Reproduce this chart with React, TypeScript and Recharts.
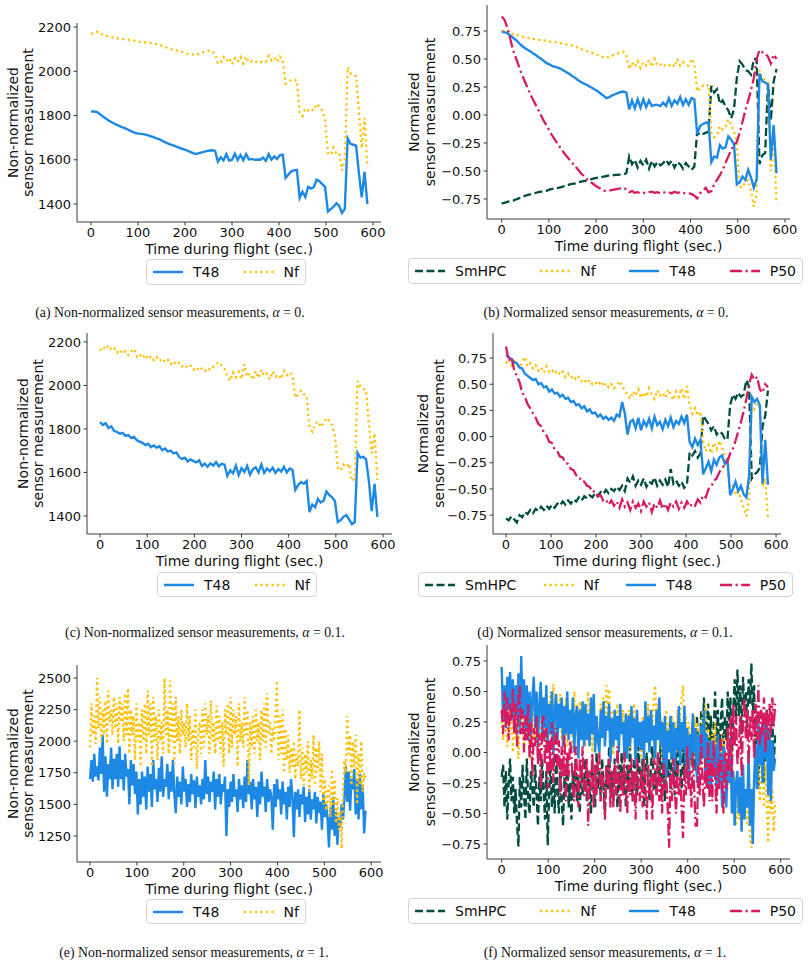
import { LineChart, Line, XAxis, YAxis, Legend } from "recharts";

// time grid (sec.) for the alpha = 0 and alpha = 0.1 panels
const TIME = [
  0, 6, 12, 18, 24, 30, 36, 42, 48, 54,
  60, 66, 72, 78, 84, 90, 96, 102, 108, 114,
  120, 126, 132, 138, 144, 150, 156, 162, 168, 174,
  180, 186, 192, 198, 204, 210, 216, 222, 228, 234,
  240, 246, 252, 258, 264, 270, 276, 282, 288, 294,
  300, 306, 312, 318, 324, 330, 336, 342, 348, 354,
  360, 366, 372, 378, 384, 390, 396, 402, 408, 414,
  420, 426, 432, 438, 444, 450, 456, 462, 468, 474,
  480, 486, 492, 498, 504, 510, 516, 522, 528, 534,
  540, 546, 552, 558, 564, 570, 576, 582, 588,
];

// finer grid for the noisy alpha = 1 panels
const TIME_FINE = [
  0, 3, 6, 9, 12, 15, 18, 21, 24, 27,
  30, 33, 36, 39, 42, 45, 48, 51, 54, 57,
  60, 63, 66, 69, 72, 75, 78, 81, 84, 87,
  90, 93, 96, 99, 102, 105, 108, 111, 114, 117,
  120, 123, 126, 129, 132, 135, 138, 141, 144, 147,
  150, 153, 156, 159, 162, 165, 168, 171, 174, 177,
  180, 183, 186, 189, 192, 195, 198, 201, 204, 207,
  210, 213, 216, 219, 222, 225, 228, 231, 234, 237,
  240, 243, 246, 249, 252, 255, 258, 261, 264, 267,
  270, 273, 276, 279, 282, 285, 288, 291, 294, 297,
  300, 303, 306, 309, 312, 315, 318, 321, 324, 327,
  330, 333, 336, 339, 342, 345, 348, 351, 354, 357,
  360, 363, 366, 369, 372, 375, 378, 381, 384, 387,
  390, 393, 396, 399, 402, 405, 408, 411, 414, 417,
  420, 423, 426, 429, 432, 435, 438, 441, 444, 447,
  450, 453, 456, 459, 462, 465, 468, 471, 474, 477,
  480, 483, 486, 489, 492, 495, 498, 501, 504, 507,
  510, 513, 516, 519, 522, 525, 528, 531, 534, 537,
  540, 543, 546, 549, 552, 555, 558, 561, 564, 567,
  570, 573, 576, 579, 582, 585, 588,
];

const TIME_TICKS = [0, 100, 200, 300, 400, 500, 600];
const RAW_TICKS = [1400, 1600, 1800, 2000, 2200];
const RAW_TICKS_ALPHA1 = [1250, 1500, 1750, 2000, 2250, 2500];
const NORM_TICKS = [-0.75, -0.5, -0.25, 0, 0.25, 0.5, 0.75];

// (a) alpha = 0, raw
const A_T48 = [
  1818, 1818, 1816, 1808, 1798, 1789, 1780, 1772, 1765, 1759,
  1753, 1748, 1743, 1737, 1731, 1725, 1720, 1718, 1717, 1715,
  1711, 1707, 1703, 1698, 1694, 1688, 1681, 1675, 1670, 1666,
  1661, 1656, 1651, 1647, 1642, 1637, 1631, 1626, 1629, 1632,
  1636, 1639, 1642, 1643, 1640, 1592, 1612, 1598, 1625, 1596,
  1600, 1628, 1599, 1622, 1598, 1626, 1602, 1604, 1600, 1601,
  1600, 1610, 1596, 1626, 1601, 1615, 1604, 1621, 1623, 1518,
  1533, 1548, 1552, 1554, 1428, 1456, 1432, 1478, 1470, 1476,
  1510, 1503, 1490, 1478, 1366, 1377, 1388, 1404, 1392, 1360,
  1378, 1697, 1672, 1668, 1664, 1540, 1430, 1546, 1400,
];
const A_NF = [
  2168, 2174, 2179, 2172, 2166, 2162, 2158, 2155, 2152, 2149,
  2147, 2146, 2145, 2143, 2141, 2139, 2137, 2134, 2132, 2131,
  2130, 2128, 2126, 2123, 2120, 2116, 2111, 2106, 2101, 2098,
  2095, 2092, 2088, 2084, 2080, 2077, 2076, 2073, 2078, 2082,
  2086, 2090, 2094, 2090, 2078, 2034, 2040, 2064, 2046, 2060,
  2032, 2058, 2042, 2064, 2036, 2066, 2040, 2044, 2038, 2046,
  2040, 2048, 2044, 2070, 2050, 2062, 2042, 2066, 2052, 1944,
  1950, 1962, 1960, 1958, 1812, 1798, 1832, 1822, 1830, 1822,
  1852, 1840, 1822, 1780, 1630, 1622, 1655, 1628, 1630, 1552,
  1600, 2018, 1990, 1980, 1978, 1820, 1652, 1790, 1570,
];

// (b) alpha = 0, normalized
const B_SMHPC = [
  -0.79, -0.785, -0.775, -0.77, -0.765, -0.755, -0.745, -0.735, -0.725, -0.715,
  -0.71, -0.7, -0.695, -0.69, -0.685, -0.68, -0.675, -0.665, -0.66, -0.655,
  -0.65, -0.645, -0.635, -0.63, -0.62, -0.615, -0.61, -0.6, -0.595, -0.59,
  -0.585, -0.58, -0.57, -0.565, -0.56, -0.555, -0.55, -0.545, -0.54, -0.54,
  -0.535, -0.535, -0.53, -0.53, -0.52, -0.37, -0.44, -0.4, -0.47, -0.41,
  -0.45, -0.4, -0.48, -0.41, -0.46, -0.42, -0.45, -0.43, -0.4, -0.44,
  -0.41, -0.47, -0.42, -0.44, -0.48, -0.43, -0.46, -0.49, -0.46, -0.15,
  -0.18, -0.17, -0.16, -0.15, 0.26, 0.2, 0.23, 0.1, 0.13, 0.08,
  0.04, -0.03, 0.05, 0.33, 0.48, 0.45, 0.4, 0.39, 0.36, 0.5,
  0.5, -0.44, -0.36, -0.34, 0.28, -0.05, 0.3, 0.41,
];
const B_NF = [
  0.75, 0.76, 0.75, 0.735, 0.72, 0.715, 0.71, 0.7, 0.695, 0.69,
  0.685, 0.68, 0.675, 0.67, 0.67, 0.665, 0.66, 0.655, 0.65, 0.65,
  0.645, 0.64, 0.635, 0.63, 0.625, 0.62, 0.61, 0.6, 0.59, 0.58,
  0.57, 0.565, 0.555, 0.545, 0.535, 0.525, 0.515, 0.51, 0.52, 0.53,
  0.54, 0.55, 0.56, 0.565, 0.53, 0.41, 0.47, 0.43, 0.48, 0.42,
  0.47, 0.44, 0.49, 0.43, 0.5, 0.44, 0.45, 0.43, 0.45, 0.44,
  0.46, 0.43, 0.5, 0.44, 0.47, 0.45, 0.44, 0.5, 0.46, 0.21,
  0.24, 0.26, 0.25, 0.27, -0.16, -0.2, -0.18, -0.1, -0.13, -0.11,
  -0.04, -0.09, -0.15, -0.25, -0.64, -0.65, -0.6, -0.58, -0.68, -0.82,
  -0.7, 0.4, 0.33, 0.31, 0.3, -0.5, -0.16, -0.79,
];
const B_T48 = [
  0.74, 0.74, 0.73, 0.71, 0.69, 0.67, 0.645, 0.62, 0.6, 0.585,
  0.57, 0.55, 0.535, 0.515, 0.5, 0.48, 0.46, 0.45, 0.435, 0.43,
  0.42, 0.41, 0.395, 0.38, 0.365, 0.345, 0.33, 0.31, 0.295, 0.28,
  0.27, 0.255, 0.24, 0.225, 0.21, 0.19, 0.17, 0.15, 0.16, 0.175,
  0.185, 0.195, 0.205, 0.21, 0.2, 0.05, 0.13, 0.06, 0.14, 0.065,
  0.14, 0.07, 0.13, 0.08, 0.09, 0.09, 0.08, 0.11, 0.08, 0.15,
  0.08, 0.13, 0.1, 0.16, 0.09, 0.14, 0.09, 0.15, 0.14, -0.17,
  -0.1, -0.08, -0.07, -0.06, -0.42, -0.37, -0.38, -0.27, -0.3, -0.29,
  -0.19, -0.22, -0.26, -0.62, -0.6, -0.55, -0.58, -0.49, -0.56, -0.65,
  -0.57, 0.37, 0.3, 0.29, 0.27, -0.4, -0.09, -0.52,
];
const B_P50 = [
  0.88, 0.85, 0.78, 0.68, 0.58, 0.51, 0.44, 0.37, 0.31, 0.25,
  0.19, 0.14, 0.09, 0.04, -0.01, -0.06, -0.1, -0.15, -0.19, -0.23,
  -0.27, -0.3, -0.34, -0.37, -0.4, -0.43, -0.46, -0.49, -0.52, -0.545,
  -0.57, -0.59, -0.61, -0.63, -0.645, -0.66, -0.675, -0.68, -0.675, -0.67,
  -0.665, -0.66, -0.655, -0.65, -0.665, -0.69, -0.68, -0.695, -0.69, -0.7,
  -0.695, -0.7, -0.69, -0.685, -0.695, -0.69, -0.7, -0.69, -0.695, -0.69,
  -0.7, -0.685, -0.695, -0.69, -0.7, -0.695, -0.7, -0.705, -0.72, -0.745,
  -0.7, -0.68, -0.65, -0.69, -0.68, -0.62, -0.58, -0.54, -0.49, -0.43,
  -0.37, -0.31, -0.27, -0.24, -0.16, -0.06, 0.04, 0.13, 0.22, 0.33,
  0.5, 0.58, 0.56, 0.55, 0.52, 0.46, 0.54, 0.5,
];

// (c) alpha = 0.1, raw
const C_T48 = [
  1832, 1818, 1826, 1804, 1812, 1790, 1786, 1778, 1782, 1768,
  1772, 1758, 1764, 1748, 1742, 1736, 1726, 1732, 1716, 1724,
  1714, 1720, 1702, 1710, 1696, 1700, 1688, 1692, 1670, 1662,
  1668, 1650, 1660, 1652, 1646, 1656, 1630, 1640, 1626, 1642,
  1632, 1648, 1628, 1640, 1636, 1584, 1610, 1596, 1632, 1588,
  1620, 1602, 1630, 1590, 1614, 1624, 1600, 1636, 1598, 1618,
  1606, 1622, 1598, 1616, 1604, 1626, 1600, 1618, 1612, 1520,
  1542, 1556, 1548, 1560, 1418, 1452, 1440, 1478, 1462, 1470,
  1512, 1496, 1486, 1468, 1372, 1380, 1396, 1404, 1384, 1362,
  1372, 1690, 1668, 1672, 1660, 1560, 1422, 1548, 1396,
];
const C_NF = [
  2160, 2178, 2166, 2184, 2164, 2172, 2150, 2164, 2146, 2158,
  2140, 2156, 2168, 2134, 2146, 2126, 2142, 2120, 2134, 2116,
  2130, 2112, 2124, 2108, 2118, 2098, 2112, 2094, 2104, 2088,
  2096, 2080, 2090, 2072, 2084, 2068, 2078, 2064, 2080, 2072,
  2086, 2098, 2108, 2092, 2076, 2040, 2022, 2058, 2036, 2062,
  2030, 2098, 2040, 2056, 2026, 2066, 2034, 2072, 2044, 2054,
  2028, 2064, 2040, 2050, 2030, 2066, 2046, 2060, 2048, 1944,
  1958, 1976, 1960, 1952, 1808, 1788, 1822, 1834, 1808, 1830,
  1850, 1836, 1818, 1770, 1622, 1608, 1636, 1624, 1640, 1560,
  1572, 2020, 1994, 1984, 1978, 1824, 1688, 1780, 1566,
];

// (d) alpha = 0.1, normalized
const D_SMHPC = [
  -0.78, -0.8, -0.76, -0.79, -0.82, -0.75, -0.77, -0.72, -0.74, -0.7,
  -0.73, -0.69, -0.71, -0.67, -0.7, -0.66, -0.69, -0.65, -0.68, -0.64,
  -0.66, -0.62, -0.65, -0.61, -0.64, -0.6, -0.62, -0.58, -0.61, -0.57,
  -0.59, -0.56, -0.58, -0.54, -0.57, -0.53, -0.55, -0.51, -0.54, -0.5,
  -0.52, -0.48, -0.51, -0.47, -0.52, -0.4, -0.44, -0.38, -0.47, -0.42,
  -0.46, -0.4, -0.48, -0.43, -0.45, -0.39, -0.47, -0.42, -0.46, -0.41,
  -0.48, -0.31, -0.45, -0.42, -0.47, -0.43, -0.49, -0.46, -0.15, -0.18,
  -0.14, -0.2, -0.16, 0.2, 0.16, 0.12, 0.06, 0.1, 0.02, 0.05,
  0.03, -0.02, -0.03, 0.3, 0.4, 0.36, 0.42, 0.38, 0.4, 0.54,
  0.48, -0.4, -0.36, -0.34, -0.3, 0.1, 0.2, 0.44,
];
const D_NF = [
  0.7, 0.74, 0.68, 0.72, 0.7, 0.66, 0.71, 0.76, 0.67, 0.7,
  0.65, 0.68, 0.63, 0.66, 0.61, 0.67, 0.62, 0.64, 0.6, 0.63,
  0.59, 0.62, 0.57, 0.6, 0.56, 0.58, 0.54, 0.57, 0.53, 0.55,
  0.51, 0.54, 0.5, 0.52, 0.49, 0.53, 0.48, 0.51, 0.47, 0.5,
  0.46, 0.49, 0.53, 0.48, 0.44, 0.4, 0.36, 0.43, 0.39, 0.45,
  0.37, 0.42, 0.38, 0.46, 0.4, 0.36, 0.44, 0.39, 0.42, 0.37,
  0.45, 0.4, 0.35, 0.43, 0.38, 0.46, 0.36, 0.48, 0.3, 0.22,
  0.27, 0.2, 0.24, -0.05, -0.14, -0.08, -0.16, -0.06, -0.12, -0.04,
  -0.1, -0.18, -0.24, -0.55, -0.48, -0.56, -0.5, -0.6, -0.68, -0.76,
  -0.6, 0.3, 0.26, 0.32, 0.28, -0.48, -0.4, -0.78,
];
const D_T48 = [
  0.78, 0.76, 0.74, 0.71, 0.7, 0.66, 0.65, 0.6, 0.58, 0.56,
  0.54, 0.55, 0.5, 0.51, 0.47, 0.48, 0.43, 0.45, 0.41, 0.42,
  0.38, 0.4, 0.36, 0.37, 0.33, 0.34, 0.3, 0.31, 0.27, 0.29,
  0.24, 0.26, 0.22, 0.23, 0.19, 0.21, 0.17, 0.19, 0.16, 0.18,
  0.15, 0.21, 0.19, 0.33, 0.22, 0.02, 0.14, 0.16, 0.08, 0.18,
  0.06, 0.15, 0.1, 0.17, 0.08, 0.19, 0.11, 0.14, 0.07, 0.16,
  0.1, 0.18, 0.09, 0.15, 0.12, 0.19, 0.13, 0.21, -0.05, -0.1,
  -0.02, -0.08, -0.03, -0.36, -0.3, -0.24, -0.33, -0.22, -0.27, -0.2,
  -0.18, -0.26, -0.22, -0.56, -0.5, -0.43, -0.52, -0.47, -0.55, -0.58,
  -0.38, 0.38, 0.33, 0.36, 0.3, -0.45, -0.03, -0.46,
];
const D_P50 = [
  0.86, 0.72, 0.76, 0.64, 0.58, 0.52, 0.42, 0.38, 0.31, 0.27,
  0.22, 0.18, 0.12, 0.1, 0.04, 0.01, -0.05, -0.06, -0.12, -0.14,
  -0.19, -0.2, -0.25, -0.26, -0.31, -0.32, -0.37, -0.38, -0.43, -0.43,
  -0.47, -0.48, -0.53, -0.52, -0.57, -0.56, -0.61, -0.6, -0.65, -0.61,
  -0.66, -0.62, -0.68, -0.6, -0.67, -0.63, -0.7, -0.62, -0.68, -0.64,
  -0.71, -0.62, -0.67, -0.63, -0.72, -0.64, -0.68, -0.61, -0.69, -0.64,
  -0.7, -0.63, -0.67, -0.62, -0.69, -0.63, -0.68, -0.62, -0.67, -0.64,
  -0.66, -0.6, -0.63, -0.56, -0.58, -0.5, -0.48, -0.42, -0.4, -0.34,
  -0.3, -0.27, -0.24, -0.16, -0.12, -0.04, 0.05, 0.14, 0.24, 0.36,
  0.5, 0.59, 0.54, 0.57, 0.45, 0.42, 0.5, 0.47,
];

// (e) alpha = 1, raw (on TIME_FINE)
const E_T48 = [
  1700, 1850, 1680, 1900, 1720, 1800, 1690, 1950, 1740, 2050,
  1600, 1880, 1560, 1820, 1700, 1950, 1620, 1860, 1700, 1900,
  1640, 1960, 1700, 1850, 1610, 1900, 1720, 1780, 1500, 1850,
  1650, 1820, 1580, 1760, 1420, 1700, 1500, 1760, 1560, 1720,
  1460, 1800, 1600, 1740, 1480, 1850, 1620, 1700, 1520, 1790,
  1600, 1880, 1560, 1700, 1640, 1820, 1540, 1760, 1600, 1850,
  1580, 1430, 1720, 1560, 1680, 1500, 1800, 1600, 1700, 1480,
  1660, 1520, 1740, 1580, 1690, 1470, 1720, 1560, 1650, 1500,
  1700, 1540, 1850, 1580, 1720, 1520, 1680, 1600, 1760, 1460,
  1700, 1560, 1740, 1500, 1660, 1600, 1720, 1250, 1620, 1480,
  1680, 1520, 1740, 1560, 1620, 1440, 1700, 1540, 1650, 1470,
  1720, 1520, 1850, 1580, 1680, 1460, 1700, 1540, 1640, 1400,
  1680, 1500, 1760, 1560, 1640, 1440, 1700, 1520, 1620, 1560,
  1300, 1660, 1480, 1700, 1540, 1620, 1420, 1680, 1500, 1600,
  1380, 1640, 1480, 1700, 1560, 1240, 1600, 1460, 1620, 1400,
  1580, 1500, 1640, 1360, 1560, 1420, 1620, 1380, 1540, 1460,
  1600, 1350, 1560, 1430, 1520, 1300, 1580, 1400, 1500, 1380,
  1160, 1480, 1300, 1560, 1250, 1440, 1180, 1400, 1320, 1500,
  1380, 1560, 1800, 1520, 1760, 1450, 1700, 1620, 1780, 1420,
  1700, 1380, 1740, 1460, 1650, 1270, 1450,
];
const E_NF = [
  1950, 2300, 2050, 2200, 1980, 2500, 2100, 2350, 2000, 2250,
  2050, 2320, 1980, 2400, 2150, 2250, 2050, 2350, 2100, 2300,
  1980, 2350, 2150, 2300, 2000, 2380, 2050, 2420, 1900, 2250,
  2050, 2200, 1850, 2300, 2000, 2150, 1800, 2250, 2000, 2300,
  1900, 2400, 2050, 2300, 1800, 2350, 2000, 2200, 1850, 2250,
  2000, 2150, 1900, 2500, 2050, 2250, 1900, 2480, 2000, 2300,
  1820, 2350, 2000, 2200, 1900, 2250, 2050, 2150, 1950, 2300,
  2000, 2200, 1850, 2100, 1950, 2250, 1780, 2050, 2150, 1900,
  2250, 1950, 2300, 2050, 2200, 1900, 2320, 2000, 2150, 1900,
  2280, 2000, 2200, 1900, 2150, 1800, 2250, 2050, 2300, 1900,
  2350, 1950, 2250, 2050, 2200, 1800, 2300, 2000, 2150, 1950,
  2350, 2050, 2250, 1650, 2150, 1950, 2200, 1900, 2250, 2000,
  2150, 1850, 2250, 2000, 2300, 1950, 2380, 2050, 2150, 1900,
  2100, 2000, 2250, 2480, 1850, 2200, 1900, 2250, 1750, 2100,
  1850, 2050, 1750, 1950, 1800, 2000, 1700, 1900, 1800, 2250,
  1700, 1950, 1650, 1900, 1750, 2000, 1600, 1850, 1700, 2050,
  1650, 1950, 1750, 2000, 1600, 1900, 1500, 1700, 1450, 1600,
  1650, 1400, 1780, 1500, 1700, 1350, 1550, 1300, 1450, 1150,
  1600, 1850, 1750, 2200, 1900, 2050, 1650, 2000, 1800, 2050,
  1500, 1900, 1650, 2000, 1600, 1750, 1700,
];

// (f) alpha = 1, normalized (on TIME_FINE)
const F_SMHPC = [
  -0.2, -0.1, -0.45, -0.15, -0.55, -0.25, -0.05, -0.4, -0.2, -0.5,
  -0.3, -0.6, -0.77, -0.2, -0.45, -0.1, -0.35, -0.55, -0.05, -0.4,
  -0.5, -0.15, -0.3, -0.45, -0.1, -0.35, -0.6, -0.2, -0.4, -0.05,
  -0.3, -0.55, -0.15, -0.76, -0.35, -0.1, -0.45, -0.2, -0.5, 0.0,
  -0.3, -0.5, -0.1, -0.4, -0.6, -0.2, -0.35, -0.05, -0.45, -0.25,
  -0.55, -0.15, -0.3, -0.05, -0.4, -0.2, -0.5, -0.1, -0.35, -0.25,
  -0.05, -0.4, -0.15, -0.3, -0.5, -0.1, -0.25, -0.45, 0.0, -0.3,
  -0.15, -0.4, -0.05, -0.25, -0.5, -0.1, -0.3, 0.05, -0.35, -0.2,
  -0.4, -0.05, -0.25, -0.45, -0.1, -0.3, 0.0, -0.35, -0.15, -0.45,
  -0.1, -0.3, 0.05, -0.25, -0.4, -0.05, -0.2, -0.35, 0.05, -0.15,
  -0.3, -0.05, -0.45, -0.15, 0.0, -0.25, -0.4, -0.1, 0.05, -0.3,
  -0.15, -0.35, 0.0, -0.2, 0.1, -0.3, -0.1, -0.4, 0.05, -0.2,
  -0.05, -0.3, 0.1, -0.15, -0.35, 0.0, -0.2, 0.15, -0.1, -0.3,
  0.05, -0.2, 0.2, -0.05, -0.25, 0.15, -0.1, 0.25, 0.0, -0.15,
  0.3, 0.05, -0.1, 0.35, 0.1, 0.45, -0.05, 0.25, 0.4, 0.05,
  0.3, -0.15, 0.2, 0.5, 0.05, 0.35, -0.1, 0.25, 0.45, 0.0,
  0.3, 0.1, 0.5, 0.2, 0.45, -0.05, 0.35, 0.6, 0.25, 0.68,
  0.3, 0.55, 0.15, 0.62, 0.35, 0.5, 0.2, 0.6, 0.4, 0.73,
  0.3, 0.55, -0.2, 0.1, -0.3, 0.15, -0.1, 0.3, -0.25, 0.05,
  0.35, -0.05, 0.2, -0.15, 0.3, -0.1, 0.15,
];
const F_NF = [
  0.3, 0.1, 0.45, 0.2, 0.05, 0.35, 0.15, 0.4, 0.0, 0.3,
  0.1, 0.4, -0.05, 0.3, 0.15, 0.35, 0.05, 0.42, 0.1, 0.3,
  -0.05, 0.35, 0.1, 0.4, 0.05, 0.45, 0.15, 0.35, 0.0, 0.4,
  0.15, 0.45, 0.1, 0.35, 0.2, 0.5, 0.05, 0.56, 0.15, 0.4,
  0.05, 0.3, 0.48, 0.1, 0.35, 0.15, 0.45, 0.05, 0.3, 0.2,
  0.35, 0.02, 0.5, 0.2, 0.4, 0.05, 0.42, 0.25, 0.1, 0.35,
  0.05, 0.3, 0.5, 0.15, 0.35, 0.0, 0.4, 0.1, 0.3, 0.2,
  0.0, 0.4, 0.2, 0.45, 0.1, 0.55, 0.25, 0.52, 0.1, 0.35,
  -0.02, 0.3, 0.15, 0.4, 0.05, 0.3, 0.15, 0.35, 0.0, 0.3,
  0.1, 0.35, 0.0, 0.28, 0.15, 0.4, -0.05, 0.3, 0.1, 0.2,
  -0.05, 0.3, 0.05, 0.35, 0.1, 0.4, 0.0, 0.3, 0.15, 0.45,
  0.55, 0.2, 0.4, 0.05, 0.3, -0.05, 0.25, 0.1, 0.35, 0.0,
  0.25, 0.05, 0.3, -0.1, 0.25, 0.1, 0.35, 0.0, 0.3, 0.45,
  0.55, 0.1, 0.3, 0.0, 0.25, -0.1, 0.2, 0.05, 0.3, -0.05,
  0.25, 0.0, 0.2, -0.15, 0.35, 0.05, 0.4, -0.05, 0.2, 0.1,
  -0.2, 0.15, -0.05, 0.25, -0.15, 0.1, -0.25, 0.05, -0.1, 0.15,
  -0.25, 0.0, -0.3, -0.05, -0.2, -0.1, -0.5, -0.2, -0.6, -0.3,
  -0.55, -0.25, -0.65, -0.4, -0.55, -0.3, -0.6, -0.45, -0.7, -0.78,
  -0.45, -0.2, 0.05, -0.3, -0.05, -0.4, 0.0, -0.2, -0.45, -0.1,
  -0.45, -0.74, -0.2, -0.5, -0.3, -0.65, -0.4,
];
const F_T48 = [
  0.7, 0.25, 0.55, 0.2, 0.62, 0.35, 0.66, 0.28, 0.6, 0.2,
  0.55, 0.3, 0.65, 0.15, 0.79, 0.3, 0.6, 0.2, 0.55, 0.1,
  0.5, 0.15, 0.45, 0.62, 0.2, 0.5, 0.05, 0.4, 0.58, 0.15,
  0.45, 0.2, 0.55, 0.05, 0.4, 0.15, 0.5, -0.02, 0.35, 0.48,
  0.1, 0.4, 0.2, 0.45, 0.05, 0.38, 0.15, 0.5, 0.1, 0.35,
  0.15, 0.45, 0.0, 0.3, 0.38, -0.05, 0.35, 0.1, 0.42, 0.05,
  0.4, 0.1, 0.32, 0.05, 0.45, 0.15, 0.48, 0.0, 0.3, 0.1,
  0.0, 0.35, 0.12, 0.42, 0.05, 0.3, 0.18, 0.4, -0.08, 0.28,
  0.05, 0.35, 0.1, 0.3, 0.0, 0.4, 0.15, 0.25, -0.05, 0.32,
  -0.05, 0.3, 0.05, 0.38, 0.12, 0.28, -0.1, 0.35, 0.05, 0.25,
  0.02, 0.26, -0.05, 0.42, 0.08, 0.3, 0.0, 0.35, 0.1, 0.22,
  -0.05, 0.35, 0.1, 0.45, 0.05, 0.25, -0.1, 0.3, -0.2, 0.18,
  0.0, 0.3, -0.05, 0.25, -0.15, 0.2, 0.02, 0.38, -0.1, 0.25,
  0.02, 0.38, -0.1, 0.2, -0.25, 0.15, -0.05, 0.32, 0.0, 0.2,
  -0.25, 0.15, -0.1, 0.22, -0.05, 0.35, -0.2, 0.15, -0.3, 0.1,
  -0.3, 0.1, -0.2, 0.05, -0.35, 0.15, -0.25, 0.0, -0.45, 0.05,
  0.0, -0.45, -0.05, -0.25, 0.1, -0.5, -0.15, -0.6, -0.25, -0.15,
  -0.5, -0.2, -0.65, -0.1, -0.55, -0.3, -0.45, 0.0, -0.6, -0.3,
  -0.75, -0.2, 0.05, -0.3, 0.25, -0.1, 0.2, -0.25, 0.3, -0.05,
  0.3, -0.35, 0.2, -0.4, 0.1, -0.15, -0.05,
];
const F_P50 = [
  0.35, 0.15, 0.5, 0.2, 0.45, 0.1, 0.4, 0.25, 0.52, 0.15,
  0.4, 0.05, 0.45, 0.55, 0.15, 0.35, 0.0, 0.3, 0.1, 0.4,
  -0.05, 0.25, -0.2, 0.2, 0.05, 0.3, -0.1, 0.15, -0.3, 0.25,
  0.3, -0.1, 0.2, -0.3, 0.1, -0.15, 0.25, -0.25, 0.05, 0.2,
  -0.15, 0.1, -0.35, 0.05, -0.2, 0.15, -0.4, 0.0, -0.2, 0.1,
  0.0, -0.3, -0.4, 0.05, -0.15, -0.45, -0.05, -0.25, 0.05, -0.35,
  -0.35, -0.05, -0.6, -0.15, -0.3, 0.0, -0.45, -0.1, -0.35, -0.05,
  0.0, -0.4, -0.15, -0.3, -0.55, -0.1, -0.3, -0.05, -0.45, -0.15,
  -0.45, -0.1, -0.35, 0.05, -0.25, -0.5, -0.15, -0.35, 0.0, -0.3,
  -0.5, -0.1, -0.35, -0.05, -0.4, -0.15, -0.55, -0.05, -0.3, -0.4,
  -0.15, -0.45, -0.05, -0.3, -0.55, -0.1, -0.35, -0.2, -0.55, -0.05,
  -0.1, -0.35, 0.0, -0.4, -0.2, -0.5, -0.05, -0.3, -0.2, -0.45,
  -0.78, -0.15, -0.4, -0.05, -0.3, -0.5, -0.1, -0.35, -0.2, -0.45,
  -0.7, -0.1, -0.35, 0.05, -0.3, -0.15, -0.45, 0.0, -0.3, -0.6,
  -0.6, -0.1, -0.35, 0.15, -0.25, -0.45, -0.05, -0.3, 0.1, -0.4,
  -0.05, -0.4, 0.1, -0.2, -0.5, -0.05, -0.3, 0.15, -0.25, -0.5,
  0.0, -0.3, 0.2, -0.15, 0.3, -0.2, 0.4, 0.05, 0.3, -0.1,
  0.05, 0.3, -0.2, 0.25, 0.45, 0.1, 0.35, -0.1, 0.3, 0.1,
  0.35, -0.05, 0.4, 0.1, 0.55, 0.05, 0.35, 0.15, 0.45, 0.0,
  0.35, 0.1, 0.4, 0.15, 0.45, 0.2, 0.4,
];

const COLORS: Record<string, string> = {
  SmHPC: "#004D40",
  Nf: "#FFC107",
  T48: "#1E88E5",
  P50: "#D81B60",
};
const DASH: Record<string, string | undefined> = {
  SmHPC: "8 3.5",
  Nf: "2.2 3.3",
  T48: undefined,
  P50: "12 3.5 2.2 3.5",
};
const WIDTH: Record<string, number> = { SmHPC: 2.3, Nf: 2.3, T48: 2.4, P50: 2.3 };

const SANS = "'DejaVu Sans', Verdana, sans-serif";
const SERIF = "'Liberation Serif', 'Times New Roman', serif";
const AXIS = "#3a3a3a";
const X_H = 30;
const H = 300;

const fmtRaw = (v: number) => String(v);
const fmtNorm = (v: number) => v.toFixed(2).replace("-", "\u2212");

type Series = { name: string; values: number[] };
type PanelDef = {
  left: number;
  top: number;
  width: number;
  time: number[];
  plot: { l: number; t: number; r: number; b: number };
  xDomain: [number, number];
  yDomain: [number, number];
  yTicks: number[];
  fmt: (v: number) => string;
  yTitle: string[];
  yTitleX: number[];
  legend: { l: number; t: number; w: number; h: number };
  series: Series[];
};

const RAW_TITLE = ["Non-normalized", "sensor measurement"];
const NORM_TITLE = ["Normalized", "sensor measurement"];

const PANELS: PanelDef[] = [
  {
    left: 0, top: 0, width: 400, time: TIME,
    plot: { l: 77, t: 23, r: 381, b: 222 },
    xDomain: [-29.8, 617], yDomain: [1319, 2218], yTicks: RAW_TICKS, fmt: fmtRaw,
    yTitle: RAW_TITLE, yTitleX: [13, 28],
    legend: { l: 146, t: 259, w: 160, h: 26 },
    series: [{ name: "T48", values: A_T48 }, { name: "Nf", values: A_NF }],
  },
  {
    left: 400, top: 0, width: 410, time: TIME,
    plot: { l: 487, t: 5, r: 790, b: 219 },
    xDomain: [-31.1, 610.6], yDomain: [-0.929, 0.982], yTicks: NORM_TICKS, fmt: fmtNorm,
    yTitle: NORM_TITLE, yTitleX: [14, 30],
    legend: { l: 408, t: 258, w: 395, h: 26 },
    series: [
      { name: "SmHPC", values: B_SMHPC },
      { name: "Nf", values: B_NF },
      { name: "T48", values: B_T48 },
      { name: "P50", values: B_P50 },
    ],
  },
  {
    left: 0, top: 320, width: 400, time: TIME,
    plot: { l: 87, t: 333, r: 392, b: 534 },
    xDomain: [-27.6, 619], yDomain: [1317, 2241], yTicks: RAW_TICKS, fmt: fmtRaw,
    yTitle: RAW_TITLE, yTitleX: [22.5, 38],
    legend: { l: 157, t: 572, w: 160, h: 25 },
    series: [{ name: "T48", values: C_T48 }, { name: "Nf", values: C_NF }],
  },
  {
    left: 400, top: 320, width: 410, time: TIME,
    plot: { l: 493, t: 333, r: 781, b: 534 },
    xDomain: [-28.9, 611], yDomain: [-0.93, 0.989], yTicks: NORM_TICKS, fmt: fmtNorm,
    yTitle: NORM_TITLE, yTitleX: [22.5, 38.5],
    legend: { l: 418, t: 572, w: 375, h: 25 },
    series: [
      { name: "SmHPC", values: D_SMHPC },
      { name: "Nf", values: D_NF },
      { name: "T48", values: D_T48 },
      { name: "P50", values: D_P50 },
    ],
  },
  {
    left: 0, top: 640, width: 400, time: TIME_FINE,
    plot: { l: 77, t: 665, r: 381, b: 862 },
    xDomain: [-27.8, 621], yDomain: [1044, 2603], yTicks: RAW_TICKS_ALPHA1, fmt: fmtRaw,
    yTitle: RAW_TITLE, yTitleX: [12.5, 28],
    legend: { l: 146, t: 899, w: 160, h: 25 },
    series: [{ name: "T48", values: E_T48 }, { name: "Nf", values: E_NF }],
  },
  {
    left: 400, top: 640, width: 410, time: TIME_FINE,
    plot: { l: 487, t: 645, r: 790, b: 859 },
    xDomain: [-31.6, 620], yDomain: [-0.873, 0.881], yTicks: NORM_TICKS, fmt: fmtNorm,
    yTitle: NORM_TITLE, yTitleX: [14, 30],
    legend: { l: 408, t: 898, w: 395, h: 26 },
    series: [
      { name: "SmHPC", values: F_SMHPC },
      { name: "Nf", values: F_NF },
      { name: "T48", values: F_T48 },
      { name: "P50", values: F_P50 },
    ],
  },
];

const CAPTIONS = [
  { text: "(a) Non-normalized sensor measurements, ", alpha: "0", cx: 170, cy: 313 },
  { text: "(b) Normalized sensor measurements, ", alpha: "0", cx: 606, cy: 313 },
  { text: "(c) Non-normalized sensor measurements, ", alpha: "0.1", cx: 205, cy: 633 },
  { text: "(d) Normalized sensor measurements, ", alpha: "0.1", cx: 605, cy: 633 },
  { text: "(e) Non-normalized sensor measurements, ", alpha: "1", cx: 194, cy: 953 },
  { text: "(f) Normalized sensor measurements, ", alpha: "1", cx: 605, cy: 953 },
];

function LegendBox({ names, w, h }: { names: string[]; w: number; h: number }) {
  return (
    <div
      style={{
        boxSizing: "border-box",
        width: w,
        height: h,
        border: "1px solid #d6d6d6",
        borderRadius: 4,
        background: "#fff",
        display: "flex",
        alignItems: "center",
        justifyContent: "space-between",
        padding: "0 6px",
        fontFamily: SANS,
        fontSize: 14,
        color: "#111",
      }}
    >
      {names.map((n) => (
        <div key={n} style={{ display: "flex", alignItems: "center" }}>
          <svg width={30} height={6} style={{ display: "block" }}>
            <line
              x1={0}
              y1={3}
              x2={30}
              y2={3}
              stroke={COLORS[n]}
              strokeWidth={2.5}
              strokeDasharray={DASH[n]}
            />
          </svg>
          <span style={{ marginLeft: 10, lineHeight: "16px" }}>{n}</span>
        </div>
      ))}
    </div>
  );
}

function Panel({ p }: { p: PanelDef }) {
  const rows = p.time.map((t, i) => {
    const row: Record<string, number | undefined> = { t };
    p.series.forEach((s) => {
      row[s.name] = s.values[i];
    });
    return row;
  });

  const margin = {
    top: p.plot.t - p.top,
    right: p.left + p.width - p.plot.r,
    left: 0,
    bottom: p.top + H - p.plot.b - X_H,
  };
  const yAxisW = p.plot.l - p.left;
  const midY = (p.plot.t + p.plot.b) / 2 - p.top;
  const midX = (p.plot.l + p.plot.r) / 2 - p.left;
  const bottomY = p.plot.b - p.top;

  const tickStyle = { fill: "#111", fontSize: 13, fontFamily: SANS };

  return (
    <div style={{ position: "absolute", left: p.left, top: p.top }}>
      <LineChart width={p.width} height={H} data={rows} margin={margin} style={{ fontFamily: SANS }}>
        <XAxis
          dataKey="t"
          type="number"
          domain={p.xDomain}
          ticks={TIME_TICKS}
          interval={0}
          allowDataOverflow
          height={X_H}
          stroke={AXIS}
          tick={tickStyle}
          tickSize={3.5}
          tickMargin={2}
          label={() => (
            <text
              x={midX}
              y={bottomY + 27}
              textAnchor="middle"
              dominantBaseline="central"
              fontSize={14}
              fontFamily={SANS}
              fill="#111"
            >
              Time during flight (sec.)
            </text>
          )}
        />
        <YAxis
          type="number"
          domain={p.yDomain}
          ticks={p.yTicks}
          interval={0}
          allowDataOverflow
          width={yAxisW}
          stroke={AXIS}
          tick={tickStyle}
          tickSize={3.5}
          tickMargin={2.5}
          tickFormatter={p.fmt}
          label={() => (
            <g>
              {p.yTitle.map((line, k) => (
                <text
                  key={line}
                  x={p.yTitleX[k]}
                  y={midY}
                  transform={`rotate(-90 ${p.yTitleX[k]} ${midY})`}
                  textAnchor="middle"
                  dominantBaseline="central"
                  fontSize={14}
                  fontFamily={SANS}
                  fill="#111"
                >
                  {line}
                </text>
              ))}
            </g>
          )}
        />
        {p.series.map((s) => (
          <Line
            key={s.name}
            dataKey={s.name}
            name={s.name}
            type="linear"
            stroke={COLORS[s.name]}
            strokeWidth={WIDTH[s.name]}
            strokeDasharray={DASH[s.name]}
            dot={false}
            activeDot={false}
            isAnimationActive={false}
          />
        ))}
        <Legend
          layout="horizontal"
          verticalAlign="middle"
          align="center"
          wrapperStyle={{
            left: p.legend.l - p.left,
            top: p.legend.t - p.top,
            width: p.legend.w,
            height: p.legend.h,
            margin: 0,
          }}
          content={() => (
            <LegendBox names={p.series.map((s) => s.name)} w={p.legend.w} h={p.legend.h} />
          )}
        />
      </LineChart>
    </div>
  );
}

export default function App() {
  return (
    <div style={{ position: "absolute", left: 0, top: 0, width: 810, height: 967, background: "#fff" }}>
      {PANELS.map((p, i) => (
        <Panel key={i} p={p} />
      ))}
      {CAPTIONS.map((c) => (
        <div
          key={c.text}
          style={{
            position: "absolute",
            left: c.cx - 200,
            top: c.cy - 8,
            width: 400,
            lineHeight: "16px",
            textAlign: "center",
            fontFamily: SERIF,
            fontSize: 13.8,
            color: "#111",
            whiteSpace: "nowrap",
          }}
        >
          {c.text}
          <i>α</i> = {c.alpha}.
        </div>
      ))}
    </div>
  );
}
